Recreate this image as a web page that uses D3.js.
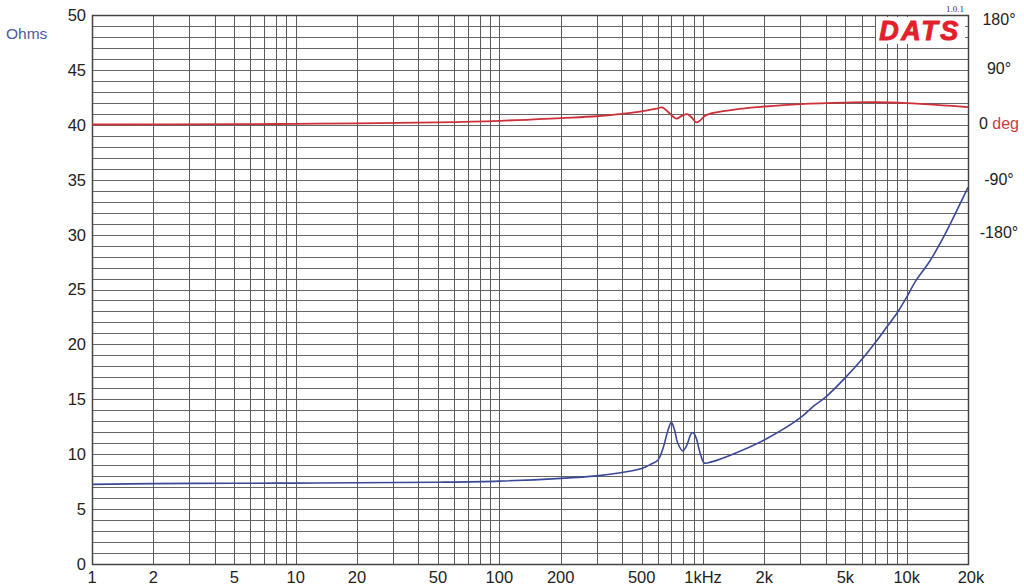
<!DOCTYPE html>
<html>
<head>
<meta charset="utf-8">
<script src="https://cdn.jsdelivr.net/npm/d3@7"></script>
<style>
  html, body { margin: 0; padding: 0; background: #fff; }
  svg { display: block; }
  text { font-family: "Liberation Sans", Arial, sans-serif; }
</style>
</head>
<body>
<svg id="chart" width="1024" height="586"></svg>
<script>
// ---- data ----
const impFreq = [1, 2, 5, 10, 20, 50, 100, 200, 300, 400, 500, 550, 600, 634, 671, 699, 725, 750, 794, 830, 870, 889, 910, 930, 955, 977, 1014, 1100, 1400, 2000, 3000, 3500, 4000, 5000, 6000, 7000, 8000, 9000, 10000, 11000, 13000, 15000, 20000];
const impOhms = [7.25, 7.32, 7.35, 7.37, 7.4, 7.45, 7.55, 7.8, 8.03, 8.33, 8.7, 9.05, 9.45, 10.45, 12.1, 12.9, 12.2, 11.06, 10.3, 10.75, 11.8, 11.97, 11.8, 11.36, 10.5, 9.85, 9.2, 9.3, 10.0, 11.3, 13.3, 14.4, 15.2, 16.97, 18.6, 20.15, 21.6, 22.9, 24.3, 25.7, 27.6, 29.6, 34.3];

const phFreq = [1, 5, 10, 20, 50, 100, 200, 300, 400, 500, 600, 631, 684, 740, 790, 837, 880, 926, 960, 1016, 1075, 1500, 2000, 3000, 5000, 7000, 10000, 15000, 20000];
const phDeg  = [0.5, 1, 1.5, 2.5, 4, 6.5, 11, 14, 18, 22, 27, 28.5, 19, 10, 15, 17.5, 12, 4, 6, 14, 18, 26, 30, 34, 36.5, 37, 35.5, 32, 29];

const ohmTicks = [0, 5, 10, 15, 20, 25, 30, 35, 40, 45, 50];
const freqTicks = [1, 2, 5, 10, 20, 50, 100, 200, 500, 1000, 2000, 5000, 10000, 20000];
const freqTickLabels = ["1", "2", "5", "10", "20", "50", "100", "200", "500", "1kHz", "2k", "5k", "10k", "20k"];
const phaseTicks = [180, 90, 0, -90, -180];
const phaseTickLabels = ["180°", "90°", "0", "-90°", "-180°"];

// ---- layout ----
const L = 92, R = 968, T = 15, B = 564;
const svg = d3.select("#chart");

const x = d3.scaleLog().domain([1, 20000]).range([L, R]);
const y = d3.scaleLinear().domain([0, 50]).range([B, T]);
const yPh = d3.scaleLinear().domain([-720, 180]).range([B, T]);

// grid
const vGrid = [];
for (let dec = 1; dec <= 10000; dec *= 10) for (let m = 1; m <= 9; m++) { const f = dec * m; if (f <= 20000) vGrid.push(f); }
vGrid.push(20000);
const hGrid = d3.range(0, 51, 1);

const grid = svg.append("g");
grid.selectAll("line.h").data(hGrid).join("line")
  .attr("x1", L).attr("x2", R)
  .attr("y1", d => Math.round(y(d)) + 0.5).attr("y2", d => Math.round(y(d)) + 0.5)
  .attr("stroke", "#666").attr("stroke-width", 1);
grid.selectAll("line.v").data(vGrid).join("line")
  .attr("y1", T).attr("y2", B)
  .attr("x1", d => Math.round(x(d)) + 0.5).attr("x2", d => Math.round(x(d)) + 0.5)
  .attr("stroke", "#5a5a5a").attr("stroke-width", 1);

// border
svg.append("rect").attr("x", L + 0.5).attr("y", Math.round(T) + 0.5)
  .attr("width", Math.round(R - L)).attr("height", Math.round(B - T))
  .attr("fill", "none").attr("stroke", "#444").attr("stroke-width", 1.5);

// logo
svg.append("rect").attr("x", 876).attr("y", 17).attr("width", 89).attr("height", 27).attr("fill", "#fff");
svg.append("text").attr("x", 920).attr("y", 40).attr("text-anchor", "middle")
  .attr("font-size", 27).attr("font-weight", "bold").attr("font-style", "italic")
  .attr("fill", "#e31e2d").attr("stroke", "#e31e2d").attr("stroke-width", 1)
  .attr("letter-spacing", 2.5).text("DATS");
svg.append("text").attr("x", 955).attr("y", 12).attr("text-anchor", "middle")
  .style("font-family", "'Liberation Serif', serif").attr("font-size", 9).attr("fill", "#333").text("1.0.1");

// curves
const lineImp = d3.line().x((d, i) => x(impFreq[i])).y(d => y(d)).curve(d3.curveCatmullRom.alpha(0.5));
const linePh = d3.line().x((d, i) => x(phFreq[i])).y(d => yPh(d)).curve(d3.curveCatmullRom.alpha(0.5));

svg.append("path").datum(phDeg).attr("d", linePh)
  .attr("fill", "none").attr("stroke", "#cc3038").attr("stroke-width", 1.8);
svg.append("path").datum(impOhms).attr("d", lineImp)
  .attr("fill", "none").attr("stroke", "#3b4896").attr("stroke-width", 1.6);

// left axis labels
svg.append("g").selectAll("text").data(ohmTicks).join("text")
  .attr("x", 86).attr("y", d => y(d)).attr("dy", "0.36em")
  .attr("text-anchor", "end").attr("font-size", 16.5).attr("fill", "#222").text(d => d);
svg.append("text").attr("x", 6).attr("y", 33).attr("dy", "0.36em")
  .attr("font-size", 15.5).attr("fill", "#4b5a9a").text("Ohms");

// bottom axis labels
svg.append("g").selectAll("text").data(freqTicks).join("text")
  .attr("x", (d, i) => x(d) + (i === freqTicks.length - 1 ? 3 : 0)).attr("y", 577).attr("dy", "0.36em")
  .attr("text-anchor", "middle").attr("font-size", 16.5).attr("fill", "#222")
  .text((d, i) => freqTickLabels[i]);

// right axis labels (phase)
const rg = svg.append("g");
phaseTicks.forEach((p, i) => {
  const yy = Math.max(yPh(p), 21);
  const t = rg.append("text").attr("x", 999).attr("y", p === -90 ? yy : yy - 2)
    .attr("dy", "0.36em").attr("text-anchor", "middle").attr("font-size", 16).attr("fill", "#222");
  if (p === 0) {
    t.append("tspan").text("0 ");
    t.append("tspan").attr("fill", "#cc3a3f").text("deg");
  } else {
    t.text(phaseTickLabels[i]);
  }
});
</script>
</body>
</html>
